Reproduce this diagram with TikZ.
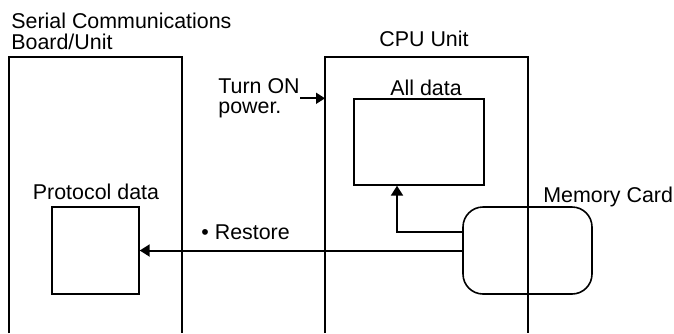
\documentclass[tikz,border=0pt]{standalone}
\usepackage{fontspec}
\setmainfont{Liberation Sans}
\usetikzlibrary{arrows.meta}

\tikzset{
    lbl/.style={inner sep=0pt, font=\fontsize{10.7}{10.2}\selectfont, align=left},
    databox/.style={draw, line width=0.7pt, inner sep=0pt},
    arr/.style={line width=1pt, -{Triangle[length=5pt,width=6pt]}}
}

\begin{document}
\begin{tikzpicture}[x=0.5pt,y=-0.5pt]
    \useasboundingbox (0,0) rectangle (674,333);

    \coordinate (scuL) at (9,57);
    \coordinate (scuR) at (182,57);
    \coordinate (cpuL) at (325,57);
    \coordinate (cpuR) at (528,57);
    \coordinate (upx) at (397,0);
    \coordinate (tap) at (463,232);

    \draw[line width=1pt] (scuL |- 0,333) -- (scuL) -- (scuR) -- (scuR |- 0,333);
    \draw[line width=1pt] (cpuL |- 0,333) -- (cpuL) -- (cpuR) -- (cpuR |- 0,333);

    \node[databox, minimum width=43.5pt, minimum height=43.5pt] (proto) at (95.5,250.5) {};
    \node[databox, minimum width=65pt, minimum height=43pt] (alldata) at (419,142) {};
    \node[draw, line width=0.8pt, rounded corners=10pt, minimum width=64.5pt,
        minimum height=43.5pt] (card) at (527.5,250.5) {};

    \node[lbl, anchor=north west] (scutitle) at (11,13) {Serial Communications\\Board/Unit};
    \node[lbl, anchor=base] (cputitle) at (424,46) {CPU Unit};
    \node[lbl, anchor=north west] (turnon) at (218,78) {Turn ON\\power.};
    \node[lbl, anchor=base] (alltitle) at (426,95) {All data};
    \node[lbl, anchor=base] (prototitle) at (96,199) {Protocol data};
    \node[lbl, anchor=base west] (restore) at (201,239) {• Restore};
    \node[lbl, anchor=base west] (cardtitle) at (543,202) {Memory Card};

    \draw[line width=0.8pt, -{Triangle[length=4.5pt,width=5.5pt]}] (turnon.east) -- (turnon.east -| cpuL);
    \draw[arr] (card.west) -- (proto.east);
    \draw[arr] (tap) -| (alldata.south -| upx);
\end{tikzpicture}
\end{document}
